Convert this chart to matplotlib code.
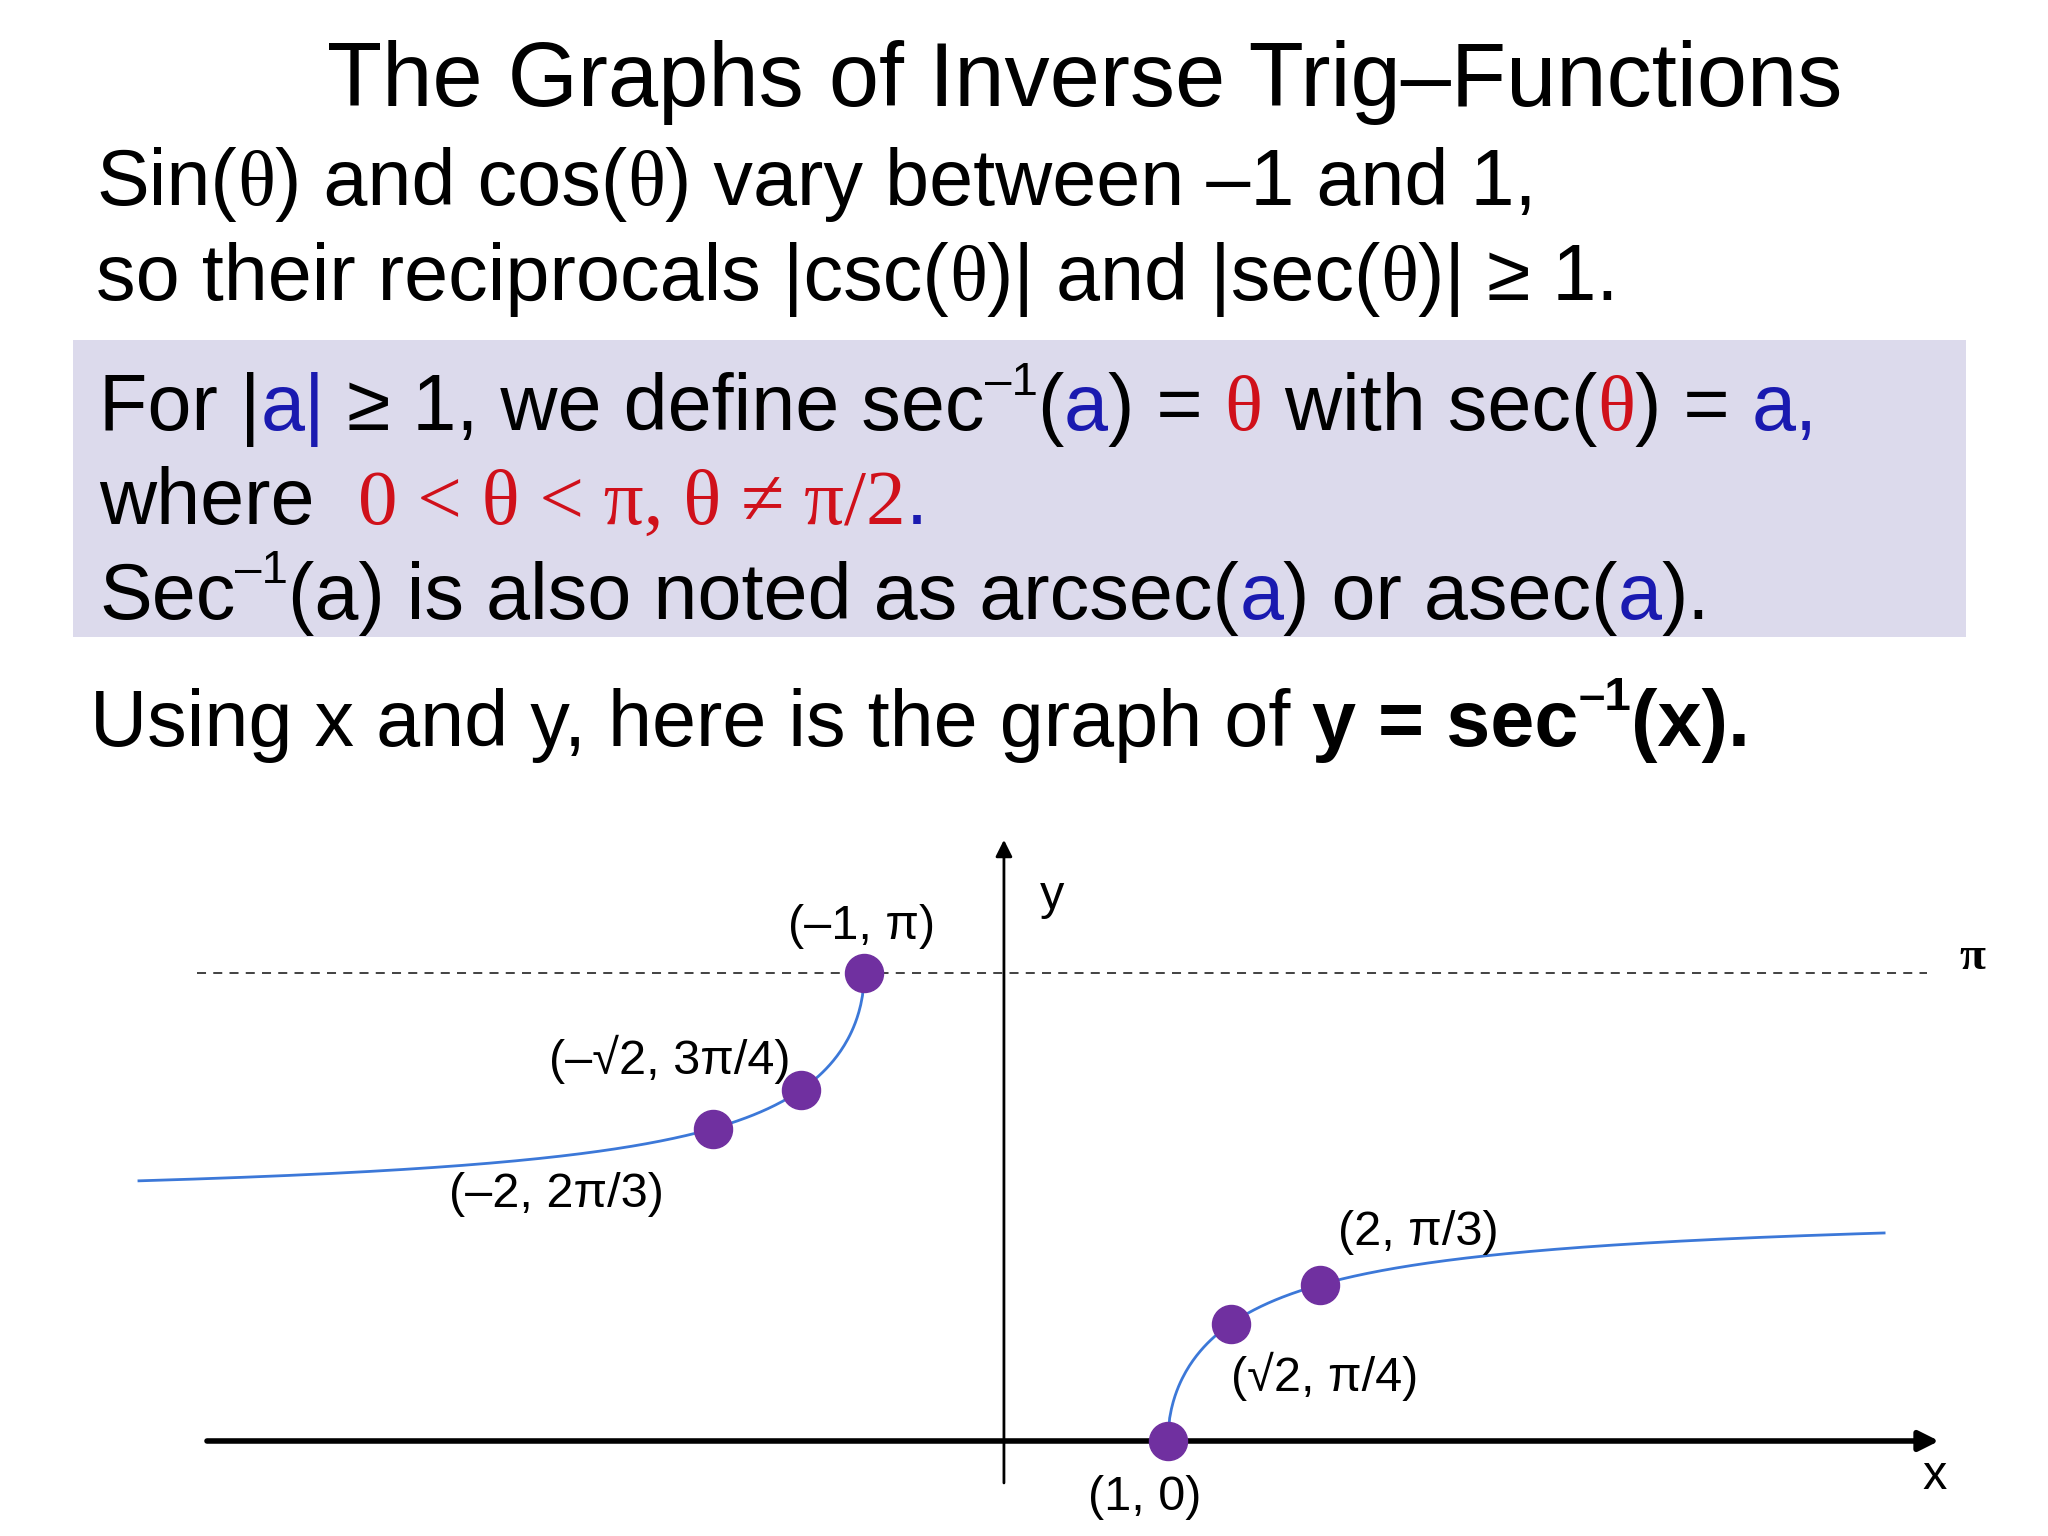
import numpy as np
import matplotlib
matplotlib.use("Agg")
import matplotlib.pyplot as plt
from matplotlib.patches import Rectangle

W, H = 1552.0, 1164.0  # layout reference units
BLUE = "#1A1AB0"
RED = "#D0101A"
PURPLE = "#7030A0"
CURVE = "#3C78D8"

# data
left_x = [-2.0, -np.sqrt(2), -1.0]
right_x = [1.0, np.sqrt(2), 2.0]
point_labels_left = ["(–2, 2π/3)", "(–√2, 3π/4)", "(–1, π)"]
point_labels_right = ["(1, 0)", "(√2, π/4)", "(2, π/3)"]

fig = plt.figure(figsize=(20.48, 15.36), dpi=100)
fig.patch.set_facecolor("white")
renderer = fig.canvas.get_renderer()

def fx(px): return px / W
def fy(py): return 1 - py / H

SANS = "Liberation Sans"
SERIF = "Liberation Serif"

def runs(x, y, items, size):
    xpos = fx(x)
    for it in items:
        txt = it[0]
        opts = it[1] if len(it) > 1 else {}
        col = opts.get("c", "black")
        fam = SERIF if opts.get("serif") else SANS
        wt = "bold" if opts.get("b") else "normal"
        s = size
        yy = fy(y)
        if opts.get("sup"):
            s = size * 0.6
            yy = fy(y) + size * 0.45 / 72 * 100 / fig.bbox.height
        t = fig.text(xpos, yy, txt, color=col, family=fam, weight=wt,
                     fontsize=s, va="baseline", ha="left")
        bb = t.get_window_extent(renderer)
        xpos += bb.width / fig.bbox.width

BS = 57
fig.text(fx(822), fy(80), "The Graphs of Inverse Trig–Functions", family=SANS,
         fontsize=65, ha="center", va="baseline")
runs(73, 155, [("Sin(",), ("θ", {"serif": 1}), (") and cos(",), ("θ", {"serif": 1}),
               (") vary between –1 and 1,",)], BS)
runs(73, 227, [("so their reciprocals |csc(",), ("θ", {"serif": 1}), (")| and |sec(",),
               ("θ", {"serif": 1}), (")| ≥ 1.",)], BS)

fig.patches.append(Rectangle((fx(55), fy(483)), fx(1490) - fx(55), (483 - 258) / H,
                             transform=fig.transFigure, facecolor="#DCDAEC",
                             edgecolor="none", zorder=0))
runs(75, 326, [("For |",), ("a|", {"c": BLUE}), (" ≥ 1, we define sec",), ("–1", {"sup": 1}),
               ("(",), ("a", {"c": BLUE}), (") = ",), ("θ", {"c": RED, "serif": 1}),
               (" with sec(",), ("θ", {"c": RED, "serif": 1}), (") = ",),
               ("a,", {"c": BLUE})], BS)
runs(75, 397, [("where  ",), ("0 < θ < π, θ ≠ π/2", {"c": RED, "serif": 1}),
               (".", {"c": BLUE})], BS)
runs(75, 469, [("Sec",), ("–1", {"sup": 1}), ("(a) is also noted as arcsec(",),
               ("a", {"c": BLUE}), (") or asec(",), ("a", {"c": BLUE}), (").",)], BS)
runs(68, 565, [("Using x and y, here is the graph of ",), ("y = sec", {"b": 1}),
               ("–1", {"sup": 1, "b": 1}), ("(x).", {"b": 1})], BS)

# graph axes
x0p, ux = 770.0, 115.0
y0p, uy = 1092.0, 113.0
top = 600.0
ax = fig.add_axes([0, 0, 1, (H - top) / H])
ax.set_xlim((0 - x0p) / ux, (W - x0p) / ux)
ax.set_ylim((y0p - H) / uy, (y0p - top) / uy)
ax.axis("off")

xl = np.linspace(-5.78, -1, 400)
xr = np.linspace(1, 5.72, 400)
ax.plot(xl, np.arccos(1 / xl), color=CURVE, lw=2)
ax.plot(xr, np.arccos(1 / xr), color=CURVE, lw=2)
ax.plot([-5.4, 6.0], [np.pi, np.pi], ls=(0, (5, 4)), color="#333333", lw=1.3)
ax.text(6.3, np.pi + 0.1, "π", family=SERIF, weight="bold", fontsize=34,
        ha="center", va="center")

ax.annotate("", xy=(6.1, 0), xytext=(-5.35, 0),
            arrowprops=dict(arrowstyle="-|>", color="black", lw=4, mutation_scale=30))
ax.annotate("", xy=(-0.08, 4.05), xytext=(-0.08, -0.3),
            arrowprops=dict(arrowstyle="-|>", color="black", lw=2, mutation_scale=25))
ax.text(0.24, 3.65, "y", fontsize=35, family=SANS, ha="center", va="center")
ax.text(6.05, -0.24, "x", fontsize=35, family=SANS, ha="center", va="center")

lx = np.array(left_x + right_x)
ax.scatter(lx, np.arccos(1 / lx), s=750, color=PURPLE, zorder=5)
lab_pos = [(-3.03, 1.65), (-2.28, 2.56), (-1.02, 3.45),
           (0.85, -0.38), (2.03, 0.43), (2.65, 1.40)]
for (px, py), lab in zip(lab_pos, point_labels_left + point_labels_right):
    ax.text(px, py, lab, fontsize=35, family=SANS, ha="center", va="center")

fig.savefig("out.png", dpi=100, facecolor="white")
